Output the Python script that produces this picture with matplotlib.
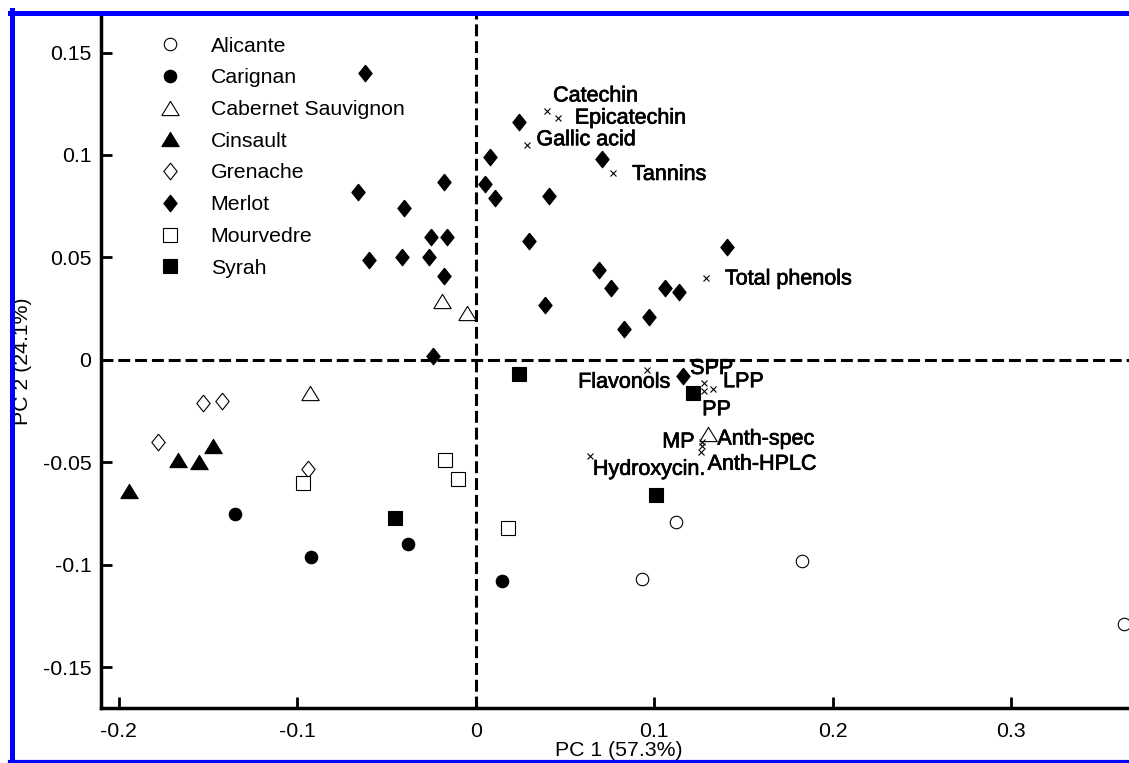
import matplotlib
matplotlib.use('Agg')

import matplotlib.pyplot as plt
import matplotlib.patheffects as pe
import numpy as np

from matplotlib.lines import Line2D

plt.rcParams['font.family'] = ['Liberation Sans', 'DejaVu Sans']

# scores per variety (PC1, PC2)
alicante_x = [0.093, 0.112, 0.183, 0.363]
alicante_y = [-0.107, -0.079, -0.098, -0.129]

carignan_x = [-0.135, -0.092, -0.038, 0.015]
carignan_y = [-0.075, -0.096, -0.090, -0.108]

cabernet_x = [-0.019, -0.005, -0.093, 0.130]
cabernet_y = [0.029, 0.023, -0.016, -0.036]

cinsault_x = [-0.194, -0.167, -0.155, -0.147]
cinsault_y = [-0.064, -0.049, -0.050, -0.042]

grenache_x = [-0.178, -0.153, -0.142, -0.094]
grenache_y = [-0.040, -0.021, -0.020, -0.053]

merlot_x = [-0.062, -0.066, -0.060, -0.040, -0.041, -0.018, -0.025, -0.016, -0.026,
            -0.018, -0.024, 0.008, 0.005, 0.011, 0.024, 0.041, 0.030, 0.039, 0.071,
            0.069, 0.076, 0.083, 0.097, 0.106, 0.114, 0.141, 0.116]
merlot_y = [0.140, 0.082, 0.049, 0.074, 0.050, 0.087, 0.060, 0.060, 0.050,
            0.041, 0.002, 0.099, 0.086, 0.079, 0.116, 0.080, 0.058, 0.027, 0.098,
            0.044, 0.035, 0.015, 0.021, 0.035, 0.033, 0.055, -0.008]

mourvedre_x = [-0.097, -0.017, -0.010, 0.018]
mourvedre_y = [-0.060, -0.049, -0.058, -0.082]

syrah_x = [-0.045, 0.024, 0.122, 0.101]
syrah_y = [-0.077, -0.007, -0.016, -0.066]

variety_names = ['Alicante', 'Carignan', 'Cabernet Sauvignon', 'Cinsault',
                 'Grenache', 'Merlot', 'Mourvedre', 'Syrah']

# loadings (x markers)
loading_names = ['Catechin', 'Epicatechin', 'Gallic acid', 'Tannins', 'Total phenols',
                 'Flavonols', 'SPP', 'LPP', 'PP', 'MP', 'Anth-spec', 'Anth-HPLC',
                 'Hydroxycin.']
loading_x = [0.040, 0.046, 0.029, 0.077, 0.129, 0.096, 0.128, 0.133, 0.128,
             0.127, 0.127, 0.126, 0.064]
loading_y = [0.1215, 0.118, 0.105, 0.091, 0.040, -0.005, -0.011, -0.014, -0.015,
             -0.040, -0.042, -0.045, -0.047]

x_ticks = [-0.2, -0.1, 0, 0.1, 0.2, 0.3]
x_tick_labels = ['-0.2', '-0.1', '0', '0.1', '0.2', '0.3']
y_ticks = [0.15, 0.1, 0.05, 0, -0.05, -0.1, -0.15]
y_tick_labels = ['0.15', '0.1', '0.05', '0', '-0.05', '-0.1', '-0.15']

# marker shapes
tri = [(-1, -0.82), (1, -0.82), (0, 0.82), (-1, -0.82)]
dia = [(0, 1), (0.8, 0), (0, -1), (-0.8, 0), (0, 1)]

# (marker, facecolor, size) per variety
styles = [('o', 'white', 9), ('o', 'black', 9), (tri, 'white', 12.5), (tri, 'black', 12.5),
          (dia, 'white', 12), (dia, 'black', 12), ('s', 'white', 9.5), ('s', 'black', 9.5)]

# label offsets in pixels (dx, dy, ha)
label_offsets = [(6, 15, 'left'), (17, 0, 'left'), (9, 5, 'left'), (19, -1, 'left'),
                 (19, -1, 'left'), (23, -12, 'right'), (-14, 14, 'left'), (10, 7, 'left'),
                 (-2, -19, 'left'), (-8, 0, 'right'), (15, 7, 'left'), (7, -12, 'left'),
                 (3, -13, 'left')]

fs = 15.3

W, H = 1129, 763
fig = plt.figure(figsize=(W / 100, H / 100), dpi=100)
ax = fig.add_axes([101 / W, (H - 708) / H, (W - 101) / W, (708 - 15) / H])
ax.set_xlim(-0.2099, 0.366)
ax.set_ylim(-0.1698, 0.1683)

# dashed zero lines
ax.axhline(0, color='black', lw=2.2, dashes=(3.9, 1.6), zorder=1)
ax.axvline(0, color='black', lw=2.2, dashes=(3.9, 1.6), zorder=1)

xs = [alicante_x, carignan_x, cabernet_x, cinsault_x, grenache_x, merlot_x, mourvedre_x, syrah_x]
ys = [alicante_y, carignan_y, cabernet_y, cinsault_y, grenache_y, merlot_y, mourvedre_y, syrah_y]

for i in range(0, len(xs)):
    m, fc, ms = styles[i]
    ax.plot(xs[i], ys[i], linestyle='none', marker=m, markersize=ms,
            markerfacecolor=fc, markeredgecolor='black', markeredgewidth=0.8,
            label=variety_names[i], zorder=3)

# loadings
ax.plot(loading_x, loading_y, linestyle='none', marker='x', markersize=5,
        markeredgewidth=0.8, color='black', zorder=3)
for i in range(0, len(loading_names)):
    dx, dy, ha = label_offsets[i]
    t = ax.annotate(loading_names[i], (loading_x[i], loading_y[i]), xytext=(dx, dy),
                    textcoords='offset pixels', ha=ha, va='center', fontsize=15.5, zorder=4)
    t.set_path_effects([pe.withStroke(linewidth=0.5, foreground='black')])

# axes styling
for s in ['top', 'right']:
    ax.spines[s].set_visible(False)
for s in ['left', 'bottom']:
    ax.spines[s].set_linewidth(2.5)

ax.set_xticks(x_ticks)
ax.set_xticklabels(x_tick_labels)
ax.set_yticks(y_ticks)
ax.set_yticklabels(y_tick_labels)
ax.tick_params(direction='in', length=8, width=2, labelsize=fs)
ax.tick_params(axis='x', pad=10)
ax.tick_params(axis='y', pad=7)

ax.set_xlabel('PC 1 (57.3%)', fontsize=fs, va='center')
ax.xaxis.set_label_coords(619 / W, 1 - 750 / H, transform=fig.transFigure)
ax.set_ylabel('PC 2 (24.1%)', fontsize=fs, va='center', ha='center')
ax.yaxis.set_label_coords(23 / W, 1 - 361 / H, transform=fig.transFigure)

ax.legend(loc='upper left', bbox_to_anchor=(148.6 / W, 1 - 36.5 / H),
          bbox_transform=fig.transFigure, frameon=False, fontsize=fs,
          borderaxespad=0, borderpad=0, handletextpad=0.92, labelspacing=0.6,
          numpoints=1)

# blue frame around the figure
blue = (0, 0, 1)
fig.add_artist(Line2D([12 / W, 12 / W], [0, 1 - 10 / H], color=blue, lw=3.6,
                      transform=fig.transFigure, zorder=10))
fig.add_artist(Line2D([10 / W, 1], [1 - 12.5 / H, 1 - 12.5 / H], color=blue, lw=3.6,
                      transform=fig.transFigure, zorder=10))
fig.add_artist(Line2D([10 / W, 1], [1 - 761.5 / H, 1 - 761.5 / H], color=blue, lw=3.0,
                      transform=fig.transFigure, zorder=10))

plt.savefig('out.png', dpi=100)
